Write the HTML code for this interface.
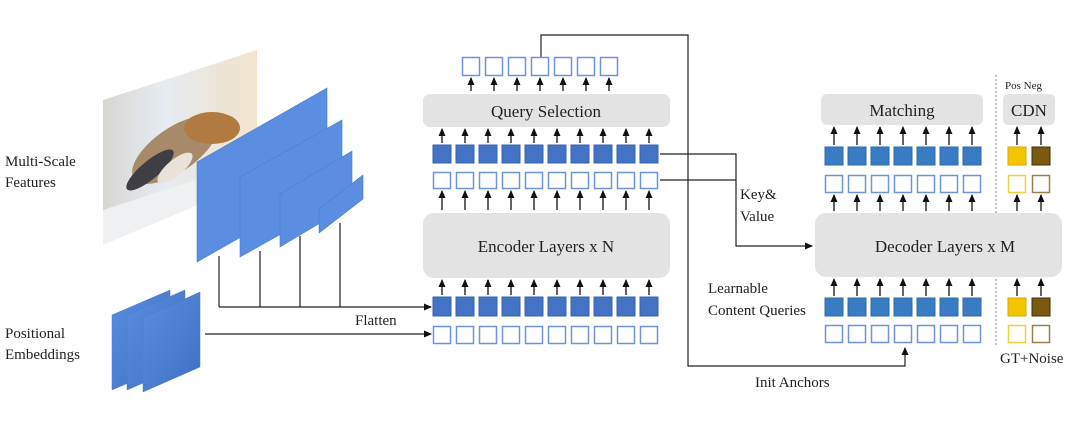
<!DOCTYPE html>
<html><head><meta charset="utf-8"><style>
html,body{margin:0;padding:0;background:#fff;}
svg{display:block;font-family:"Liberation Serif",serif;}
</style></head><body>
<svg width="1080" height="429" viewBox="0 0 1080 429" xmlns="http://www.w3.org/2000/svg">
<defs>
<marker id="ah" markerWidth="8" markerHeight="8" refX="7" refY="4" orient="auto" markerUnits="userSpaceOnUse">
<path d="M0,0.5 L8,4 L0,7.5 Z" fill="#111"/></marker>
<linearGradient id="ph" x1="0" y1="0" x2="1" y2="0">
<stop offset="0" stop-color="#d8d6d2"/><stop offset="0.4" stop-color="#e6ecf2"/><stop offset="0.8" stop-color="#ede4d6"/><stop offset="1" stop-color="#f3e6d0"/></linearGradient>
<linearGradient id="pe" x1="0" y1="0" x2="1" y2="1">
<stop offset="0" stop-color="#5b8ee0"/><stop offset="1" stop-color="#3f6fc0"/></linearGradient>
</defs>

<!-- photo -->
<polygon points="103,100 257,50 257,170 103,245" fill="url(#ph)"/>
<polygon points="103,210 257,160 257,180 103,245" fill="#eef0f2"/>
<ellipse cx="175" cy="150" rx="50" ry="22" transform="rotate(-35 175 150)" fill="#a88a6a"/>
<ellipse cx="212" cy="128" rx="28" ry="16" fill="#b07a40"/>
<ellipse cx="150" cy="170" rx="30" ry="9" transform="rotate(-40 150 170)" fill="#3e3e44"/>
<ellipse cx="175" cy="168" rx="22" ry="8" transform="rotate(-40 175 168)" fill="#e8e2da"/>

<!-- feature planes -->
<g fill="#5b8ee0" stroke="#4a7bd0" stroke-width="0.6">
<polygon points="197,162 327,88 327,188 197,262"/>
<polygon points="240,177 342,120 342,200 240,257"/>
<polygon points="280,194 352,151 352,204 280,247"/>
<polygon points="319,209 363,175 363,199 319,233"/>
</g>
<g stroke="#222" stroke-width="1.2" fill="none">
<line x1="219" y1="256" x2="219" y2="307"/>
<line x1="260" y1="251" x2="260" y2="307"/>
<line x1="300" y1="236" x2="300" y2="307"/>
<line x1="340" y1="223" x2="340" y2="307"/>
<line x1="219" y1="307" x2="431" y2="307" marker-end="url(#ah)"/>
<line x1="205" y1="334" x2="431" y2="334" marker-end="url(#ah)"/>
</g>
<!-- positional -->
<g fill="url(#pe)" stroke="#4a7bd0" stroke-width="0.5">
<polygon points="112,315 170,290 170,365 112,390"/>
<polygon points="127,315 185,290 185,365 127,390"/>
<polygon points="143,318 200,292 200,367 143,392"/>
</g>

<g font-size="15" fill="#222">
<text x="5" y="166">Multi-Scale</text>
<text x="5" y="187">Features</text>
<text x="5" y="338">Positional</text>
<text x="5" y="359">Embeddings</text>
<text x="355" y="325">Flatten</text>
<text x="740" y="199">Key&amp;</text>
<text x="740" y="221">Value</text>
<text x="708" y="293">Learnable</text>
<text x="708" y="315">Content Queries</text>
<text x="755" y="387">Init Anchors</text>
<text x="1000" y="363">GT+Noise</text>
<text x="1005" y="89" font-size="11">Pos Neg</text>
</g>

<!-- encoder boxes -->
<rect x="423" y="94" width="247" height="33" rx="7" fill="#e3e3e3"/>
<text x="546" y="117" font-size="17" text-anchor="middle" fill="#222">Query Selection</text>
<rect x="423" y="213" width="247" height="65" rx="11" fill="#e3e3e3"/>
<text x="546" y="252" font-size="17" text-anchor="middle" fill="#222">Encoder Layers x N</text>

<!-- connectors -->
<g stroke="#222" stroke-width="1.2" fill="none">
<polyline points="541,57 541,35 688,35 688,366 905,366 905,348" marker-end="url(#ah)"/>
<polyline points="660,154 736,154 736,246 812,246" marker-end="url(#ah)"/>
<line x1="660" y1="180" x2="736" y2="180"/>
</g>

<!-- decoder -->
<line x1="996" y1="75" x2="996" y2="345" stroke="#888" stroke-width="1" stroke-dasharray="2,2"/>
<rect x="821" y="94" width="162" height="31" rx="6" fill="#e3e3e3"/>
<text x="902" y="116" font-size="17" text-anchor="middle" fill="#222">Matching</text>
<rect x="1003" y="94" width="52" height="31" rx="5" fill="#e3e3e3"/>
<text x="1029" y="116" font-size="17" text-anchor="middle" fill="#222">CDN</text>
<rect x="815" y="213" width="247" height="64" rx="11" fill="#e3e3e3"/>
<text x="945" y="252" font-size="17" text-anchor="middle" fill="#222">Decoder Layers x M</text>

<g id="sq"></g>
<script>
var ns="http://www.w3.org/2000/svg",g=document.getElementById("sq");
function r(x,y,w,h,f,s){var e=document.createElementNS(ns,"rect");e.setAttribute("x",x);e.setAttribute("y",y);e.setAttribute("width",w);e.setAttribute("height",h);e.setAttribute("fill",f);e.setAttribute("stroke",s);e.setAttribute("stroke-width",f=="#fff"?1.5:1);g.appendChild(e);}
function a(x,y1,y2){var e=document.createElementNS(ns,"line");e.setAttribute("x1",x);e.setAttribute("x2",x);e.setAttribute("y1",y1);e.setAttribute("y2",y2);e.setAttribute("stroke","#111");e.setAttribute("stroke-width","1.3");e.setAttribute("marker-end","url(#ah)");g.appendChild(e);}
var i,x;
for(i=0;i<7;i++){x=462+i*23;r(x+0.5,57.5,17,18,"#fff","#6f95d8");a(x+9,91,78);}
for(i=0;i<10;i++){x=433+i*23;
 a(x+9,143,129);r(x,145,18,18,"#4472c4","#3a62a8");r(x+0.5,172.5,17,16,"#fff","#6f95d8");a(x+9,210,191);
 a(x+9,295,280);r(x,297,18,19,"#4472c4","#3a62a8");r(x+0.5,326.5,17,17,"#fff","#6f95d8");}
for(i=0;i<7;i++){x=825+i*23;
 a(x+9,145,127);r(x,147,18,18,"#3a7cc4","#2f6aa8");r(x+0.5,175.5,17,17,"#fff","#6f95d8");a(x+9,211,195);
 a(x+9,296,279);r(x,298,18,18,"#3a7cc4","#2f6aa8");r(x+0.5,325.5,17,17,"#fff","#6f95d8");}
var c=[[1008,"#f5c400","#d9a800","#f0d040"],[1032,"#7a5a10","#3d2d08","#9a8050"]];
c.forEach(function(k){x=k[0];a(x+9,145,127);r(x,147,18,18,k[1],k[2]);r(x+0.5,175.5,17,17,"#fff",k[3]);a(x+9,211,195);
 a(x+9,296,279);r(x,298,18,18,k[1],k[2]);r(x+0.5,325.5,17,17,"#fff",k[3]);});
</script>
</svg>
</body></html>
